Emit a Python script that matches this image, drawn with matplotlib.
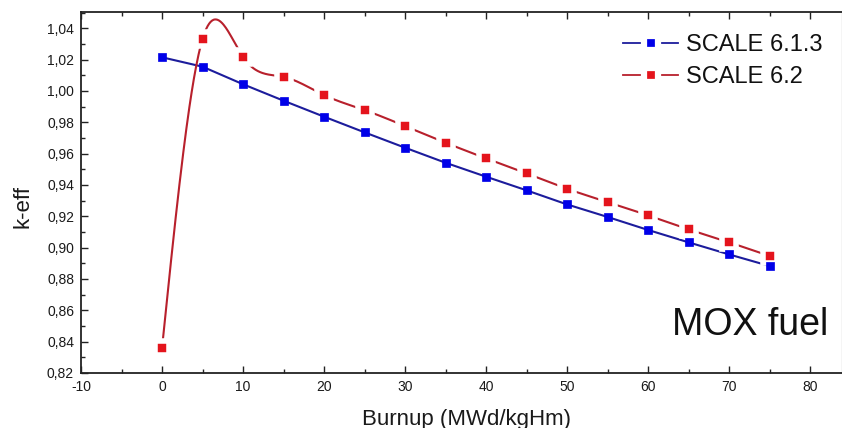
import numpy as np
import matplotlib
matplotlib.use("Agg")
import matplotlib.pyplot as plt
from matplotlib.lines import Line2D
from matplotlib.ticker import MultipleLocator, FuncFormatter

plt.rcParams['font.family'] = ['Liberation Sans', 'DejaVu Sans']

burnup = [0, 5, 10, 15, 20, 25, 30, 35, 40, 45, 50, 55, 60, 65, 70, 75]
keff_613 = [1.0215, 1.0155, 1.0043, 0.9938, 0.9836, 0.9736, 0.9638, 0.9542,
            0.9453, 0.9366, 0.9276, 0.9196, 0.9113, 0.9034, 0.8957, 0.8883]
keff_62 = [0.8358, 1.0331, 1.0217, 1.0090, 0.9974, 0.9878, 0.9776, 0.9670,
           0.9570, 0.9474, 0.9376, 0.9291, 0.9206, 0.9117, 0.9034, 0.8947]
labels = ['SCALE 6.1.3', 'SCALE 6.2']
annotation = 'MOX fuel'


def natural_spline(x, y, xs):
    x = np.asarray(x, float)
    y = np.asarray(y, float)
    n = len(x)
    h = np.diff(x)
    A = np.zeros((n, n))
    b = np.zeros(n)
    A[0, 0] = 1
    A[-1, -1] = 1
    for i in range(1, n - 1):
        A[i, i - 1] = h[i - 1]
        A[i, i] = 2 * (h[i - 1] + h[i])
        A[i, i + 1] = h[i]
        b[i] = 3 * ((y[i + 1] - y[i]) / h[i] - (y[i] - y[i - 1]) / h[i - 1])
    c = np.linalg.solve(A, b)
    bb = (y[1:] - y[:-1]) / h - h * (2 * c[:-1] + c[1:]) / 3
    d = (c[1:] - c[:-1]) / (3 * h)
    idx = np.clip(np.searchsorted(x, xs) - 1, 0, n - 2)
    dx = xs - x[idx]
    return y[idx] + bb[idx] * dx + c[idx] * dx ** 2 + d[idx] * dx ** 3


W, H = 842, 428
fig = plt.figure(figsize=(W / 100, H / 100), dpi=100)
ax = fig.add_axes([81 / W, 55 / H, (W - 81) / W, 361 / H])

blue_line = '#1c1c9c'
blue_mark = '#0000e8'
red_line = '#b8202c'
red_mark = '#e4141c'

ax.plot(burnup, keff_613, '-', color=blue_line, lw=1.5, zorder=2)

xs = np.linspace(burnup[0], burnup[-1], 800)
ax.plot(xs, natural_spline(burnup, keff_62, xs), '-', color=red_line, lw=1.5, zorder=4)
ax.plot(burnup, keff_62, 's', color=red_mark, ms=9.8, mec='white', mew=4.0, zorder=5)
ax.plot(burnup, keff_613, 's', color=blue_mark, ms=5.5, mec=blue_mark, mew=0.5, zorder=6)

ax.set_xlim(-10, 83.95)
ax.set_ylim(0.82, 1.0504)
ax.xaxis.set_major_locator(MultipleLocator(10))
ax.xaxis.set_minor_locator(MultipleLocator(5))
ax.yaxis.set_major_locator(MultipleLocator(0.02))
ax.yaxis.set_minor_locator(MultipleLocator(0.01))
ax.yaxis.set_major_formatter(FuncFormatter(lambda v, p: f"{v:.2f}".replace('.', ',')))
ax.xaxis.set_major_formatter(FuncFormatter(lambda v, p: f"{v:.0f}"))

ax.tick_params(which='both', direction='in', top=True, right=False, colors='#222222',
               labelcolor='#1a1a1a', labelsize=10, width=1.0)
ax.tick_params(which='major', length=5, pad=5)
ax.tick_params(which='minor', length=3)
for s in ['left', 'bottom', 'top']:
    ax.spines[s].set_linewidth(1.3)
    ax.spines[s].set_color('#222222')
ax.spines['right'].set_color('#cccccc')
ax.spines['right'].set_linewidth(1.0)

ax.set_xlabel('Burnup (MWd/kgHm)', fontsize=16, va='center', color='#1a1a1a')
ax.xaxis.set_label_coords(0.506, -0.1275)
ax.set_ylabel('k-eff', fontsize=16, va='center', color='#1a1a1a')
ax.yaxis.set_label_coords(-0.0762, 0.4626)

h1 = Line2D([], [], color=blue_line, lw=1.3, marker='s', ms=9.5, mfc=blue_mark,
            mec='white', mew=4.5)
h2 = Line2D([], [], color=red_line, lw=1.3, marker='s', ms=9.5, mfc=red_mark,
            mec='white', mew=4.5)
leg = ax.legend([h1, h2], labels, loc='upper left',
                bbox_to_anchor=(623 / W, 1 - 34 / H), bbox_transform=fig.transFigure,
                frameon=False, fontsize=17, handlelength=2.35, handletextpad=0.3,
                labelspacing=0.42, borderpad=0, borderaxespad=0, numpoints=1)
for t in leg.get_texts():
    t.set_color('#111111')

fig.text(828 / W, 1 - 335 / H, annotation, fontsize=27, ha='right', va='baseline',
         color='#111111')

fig.savefig('out.png', dpi=100)
